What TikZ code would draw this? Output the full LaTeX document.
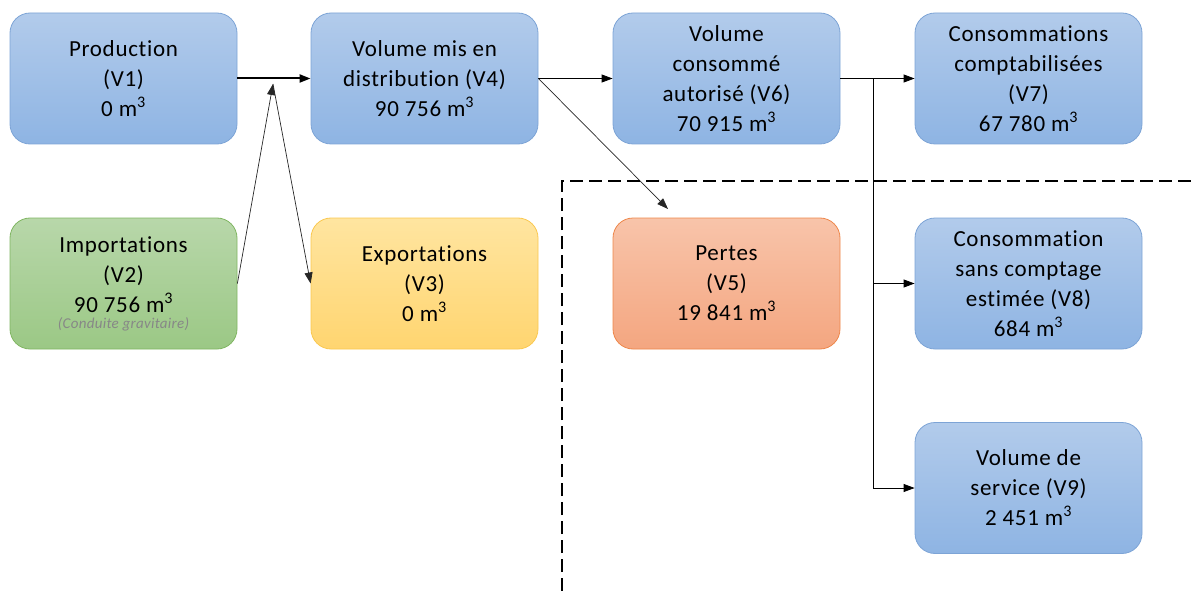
\documentclass[tikz,border=0pt]{standalone}
\usepackage{fontspec}
\setmainfont{Carlito}
\newfontfamily\boxfont{Carlito}[LetterSpace=3,Ligatures=NoCommon]
\newfontfamily\notefont{Carlito}[LetterSpace=2,Ligatures=NoCommon]
\usetikzlibrary{arrows.meta}
\definecolor{bTop}{RGB}{178,203,235}
\definecolor{bBot}{RGB}{142,180,227}
\definecolor{bBrd}{RGB}{125,164,214}
\definecolor{gTop}{RGB}{184,215,170}
\definecolor{gBot}{RGB}{155,200,133}
\definecolor{gBrd}{RGB}{128,182,98}
\definecolor{yTop}{RGB}{255,229,160}
\definecolor{yBot}{RGB}{255,213,112}
\definecolor{yBrd}{RGB}{250,200,80}
\definecolor{oTop}{RGB}{248,196,170}
\definecolor{oBot}{RGB}{244,166,128}
\definecolor{oBrd}{RGB}{238,135,75}
\definecolor{noteGray}{RGB}{135,135,135}
\begin{document}
\begin{tikzpicture}[x=1pt,y=-1pt,
  box/.style={rounded corners=20pt, minimum width=227pt, minimum height=131pt,
    inner sep=0pt, align=center, line width=0.8pt,
    font=\boxfont\fontsize{23}{30}\selectfont},
  bluebox/.style={box, draw=bBrd, top color=bTop, bottom color=bBot},
  greenbox/.style={box, draw=gBrd, top color=gTop, bottom color=gBot},
  yellowbox/.style={box, draw=yBrd, top color=yTop, bottom color=yBot},
  orangebox/.style={box, draw=oBrd, top color=oTop, bottom color=oBot},
  tip/.style={-{Triangle[length=11pt,width=8pt]}},
  conn/.style={line width=0.8pt, tip},
  thinconn/.style={line width=0.7pt, draw=black!85, tip},
  branch/.style={line width=0.9pt, draw=black!60},
  limit/.style={line width=1.8pt, dash pattern=on 13pt off 6pt}
]
\useasboundingbox (0,0) rectangle (1192,591);

\node[bluebox] (v1) at (123.5,78.5) {Production\\(V1)\\0 m\textsuperscript{3}};
\node[bluebox] (v4) at (424.5,78.5) {Volume mis en\\distribution (V4)\\90 756 m\textsuperscript{3}};
\node[bluebox] (v6) at (726.5,78.5) {Volume\\consommé\\autorisé (V6)\\70 915 m\textsuperscript{3}};
\node[bluebox] (v7) at (1028.5,78.5) {Consommations\\comptabilisées\\(V7)\\67 780 m\textsuperscript{3}};
\node[greenbox] (v2) at (123.5,283.5) {Importations\\(V2)\\90 756 m\textsuperscript{3}\\[-14pt]{\notefont\fontsize{15}{16}\selectfont\itshape\color{noteGray}(Conduite gravitaire)}};
\node[yellowbox] (v3) at (424.5,283.5) {Exportations\\(V3)\\0 m\textsuperscript{3}};
\node[orangebox] (v5) at (726.5,283.5) {Pertes\\(V5)\\19 841 m\textsuperscript{3}};
\node[bluebox] (v8) at (1028.5,283.5) {Consommation\\sans comptage\\estimée (V8)\\684 m\textsuperscript{3}};
\node[bluebox] (v9) at (1028.5,488) {Volume de\\service (V9)\\2 451 m\textsuperscript{3}};

\coordinate (j) at (273,84);
\coordinate (pt) at (668,209);
\coordinate (br) at (873,78.5);

\draw[line width=2pt, tip] (v1.east) -- (v4.west);
\draw[thinconn] (v2.east) -- (j);
\draw[thinconn] (j) -- (v3.west);
\draw[conn] (v4.east) -- (v6.west);
\draw[thinconn] (v4.east) -- (pt);
\draw[conn] (v6.east) -- (v7.west);
\draw[branch] (br) -- (873,488);
\draw[conn] (br) |- (v8.west);
\draw[conn] (br) |- (v9.west);

\draw[limit] (562,591) -- (562,181) -- (1192,181);
\end{tikzpicture}
\end{document}
